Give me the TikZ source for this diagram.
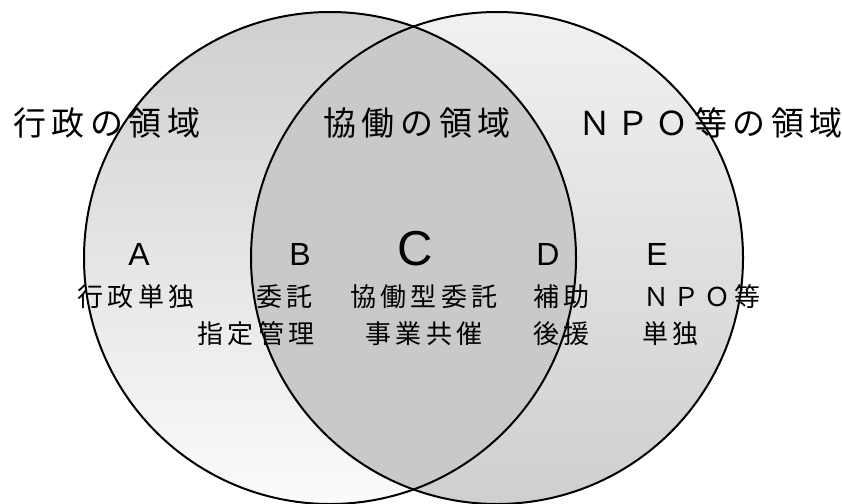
\documentclass[tikz,border=0pt]{standalone}
\usepackage{fontspec}
\usepackage{tikz}
\usetikzlibrary{positioning, calc}
\newfontfamily\gothic[LetterSpace=17]{Noto Sans CJK JP}
\newfontfamily\gothicabc{Liberation Sans}
\definecolor{areadark}{RGB}{200, 201, 203}
\definecolor{arealight}{RGB}{251, 251, 251}
\definecolor{areamid}{RGB}{206, 207, 209}

\begin{document}
\begin{tikzpicture}[x=1pt, y=-1pt,
    region/.style={circle, minimum size=492pt, inner sep=0pt},
    outline/.style={draw=black, line width=2pt},
    title/.style={inner sep=0pt, anchor=base west, font=\gothic\fontsize{33}{33}\selectfont},
    letter/.style={inner sep=0pt, anchor=base, font=\gothicabc\fontsize{32}{32}\selectfont},
    item/.style={inner sep=0pt, font=\gothic\fontsize{26}{26}\selectfont}
]
\useasboundingbox (0,0) rectangle (842,503);

% two regions
\node[region, top color=areamid, bottom color=arealight] (gov) at (330,258) {};
\node[region, top color=arealight!96!black, bottom color=areamid] (npo) at (497,258) {};
\begin{scope}
  \clip (gov.center) circle (246pt);
  \fill[areadark] (npo.center) circle (246pt);
\end{scope}
\draw[outline] (gov.center) circle (246pt);
\draw[outline] (npo.center) circle (246pt);

% titles
\node[title] (tgov) at (13,135) {行政の領域};
\node[title] (tcoop) at (323,135) {協働の領域};
\node[title] (tnpo) at (578,135) {ＮＰＯ等の領域};

% letters
\node[letter] (la) at (139,265) {A};
\node[letter] (lb) at (300,265) {B};
\node[letter, font=\gothicabc\fontsize{49}{49}\selectfont] (lc) at (415,265) {C};
\node[letter] (ld) at (548,265) {D};
\node[letter] (le) at (657,265) {E};

% items
\node[item, anchor=base west] (ia1) at (77,306) {行政単独};
\node[item, anchor=base east] (ib1) at (313,306) {委託};
\node[item, anchor=base east] (ib2) at (315,343) {指定管理};
\node[item, anchor=base] (ic1) at (424,306) {協働型委託};
\node[item, anchor=base] (ic2) at (424,343) {事業共催};
\node[item, anchor=base west] (id1) at (533,306) {補助};
\node[item, anchor=base west] (id2) at (533,343) {後援};
\node[item, anchor=base west] (ie1) at (643,306) {ＮＰＯ等};
\node[item, anchor=base west] (ie2) at (642,343) {単独};
\end{tikzpicture}
\end{document}
